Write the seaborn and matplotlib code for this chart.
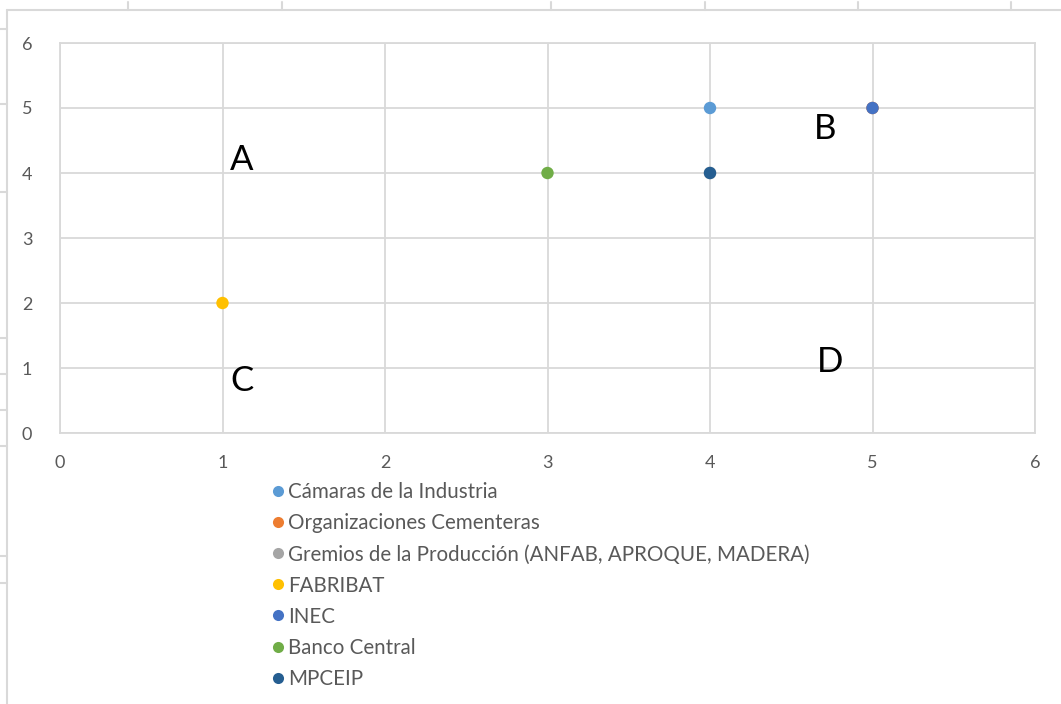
import numpy as np
import pandas as pd
import matplotlib
matplotlib.use("Agg")
import matplotlib.pyplot as plt
from matplotlib.lines import Line2D
import seaborn as sns

# ==========================================================
# Data
# ==========================================================
actores = ["Cámaras de la Industria", "Organizaciones Cementeras",
           "Gremios de la Producción (ANFAB, APROQUE, MADERA)",
           "FABRIBAT", "INEC", "Banco Central", "MPCEIP"]
x_vals = [4, 5, 4, 1, 5, 3, 4]
y_vals = [5, 5, 4, 2, 5, 4, 4]
colores = ["#5B9BD5", "#ED7D31", "#A5A5A5", "#FFC000", "#4472C4", "#70AD47", "#255E91"]

cuadrantes = ["A", "B", "C", "D"]
cuad_x = [1.12, 4.71, 1.12, 4.74]
cuad_y = [4.2, 4.68, 0.8, 1.1]

df = pd.DataFrame({"actor": actores, "x": x_vals, "y": y_vals})

# ==========================================================
# Plot
# ==========================================================
sns.set_theme(style="white")
plt.rcParams["font.family"] = ["Lato", "DejaVu Sans"]

W, H = 1061, 704
fig = plt.figure(figsize=(W / 100, H / 100), dpi=100)
ax = fig.add_axes([60 / W, 1 - 433 / H, 975 / W, 390 / H])

sns.scatterplot(data=df, x="x", y="y", hue="actor", hue_order=actores,
                palette=colores, s=80, linewidth=0, ax=ax, legend=False, zorder=3)

ax.set_xlim(0, 6)
ax.set_ylim(0, 6)
ax.set_xticks(range(7))
ax.set_yticks(range(7))
ax.grid(True, color="#d9d9d9", linewidth=1.3)
for sp in ax.spines.values():
    sp.set_color("#d9d9d9")
    sp.set_linewidth(1.3)
ax.tick_params(axis="both", length=0, labelsize=13, labelcolor="#595959")
ax.tick_params(axis="x", pad=16)
ax.tick_params(axis="y", pad=20)
ax.set_xlabel("")
ax.set_ylabel("")

for lab, cx, cy in zip(cuadrantes, cuad_x, cuad_y):
    ax.text(cx, cy, lab, fontsize=25, color="black", ha="center", va="center")

# legend below the plot
handles = [Line2D([], [], marker="o", linestyle="", markersize=8,
                  markerfacecolor=c, markeredgewidth=0) for c in colores]
leg = fig.legend(handles, actores, loc="upper left",
                 bbox_to_anchor=(262 / W, 1 - 472 / H), frameon=False,
                 fontsize=14.8, labelcolor="#595959", handlelength=0.55,
                 handletextpad=0.2, labelspacing=0.54, borderpad=0)

# screenshot frame remnants
gris = "#d9d9d9"
fig.add_artist(Line2D([7 / W, 1], [1 - 10 / H, 1 - 10 / H], color=gris, lw=1.5))
fig.add_artist(Line2D([7 / W, 7 / W], [0, 1 - 10 / H], color=gris, lw=1.5))
for tx in [128, 282, 551, 705, 858, 1011]:
    fig.add_artist(Line2D([tx / W, tx / W], [1 - 2 / H, 1 - 10 / H], color=gris, lw=1.5))
for ty in [29, 104, 192, 338, 374, 410, 446, 556, 583]:
    fig.add_artist(Line2D([0, 7 / W], [1 - ty / H, 1 - ty / H], color=gris, lw=1.5))

fig.savefig("out.png", dpi=100)
